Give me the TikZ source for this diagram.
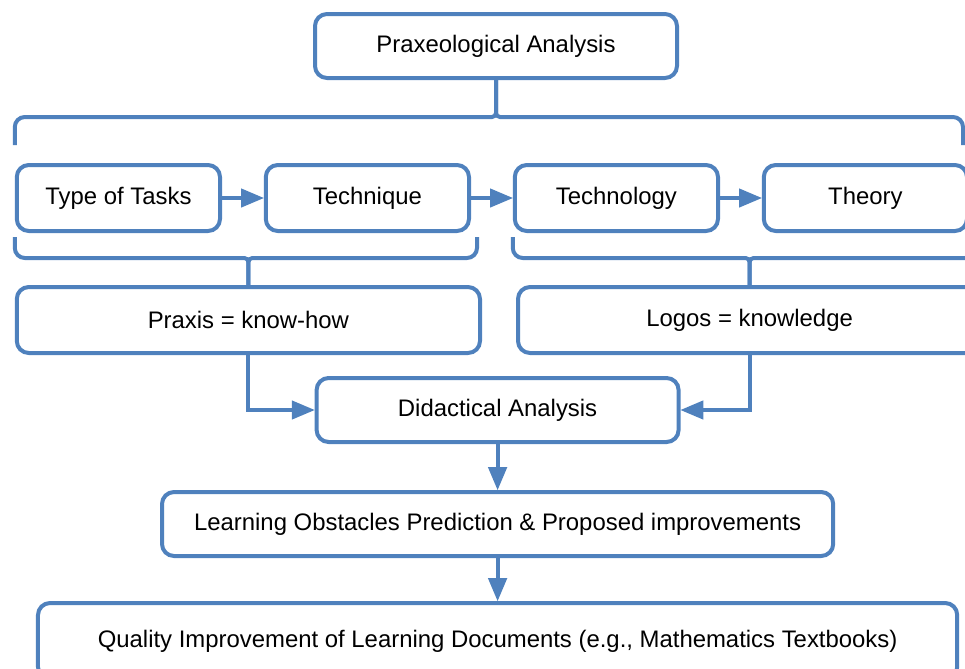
\documentclass[tikz,border=0pt]{standalone}
\usepackage{fontspec}
\setmainfont{Liberation Sans}
\usetikzlibrary{shapes.geometric, arrows, calc}
\definecolor{boxblue}{RGB}{79,129,189}

\begin{document}
\begin{tikzpicture}[node distance=2.85cm, font=\fontsize{17}{20}\selectfont]
		\tikzstyle{box} = [rectangle, rounded corners=0.3cm, minimum height=1.6cm, text centered, draw=boxblue, line width=0.1cm, fill=white]
		
		\tikzstyle{analysis} = [box, minimum width=9.05cm]
		
		\tikzstyle{component} = [box, minimum width=5.08cm, minimum height=1.65cm]
		
		\tikzstyle{logic} = [box, minimum width=11.58cm, minimum height=1.65cm]
		
		\tikzstyle{arrow} = [->,>= triangle 45, color=boxblue, line width=0.1cm]
		
		\tikzstyle{brace} = [draw=boxblue, line width=0.1cm, rounded corners=0.25cm]
		
		\path [use as bounding box] (0,0) rectangle (24.125,-16.7);
		\clip (0,0) rectangle (24.125,-16.7);
		
		% Top of the figure
		\node (start) [analysis] at (12.4,-1.15) {Praxeological Analysis};
		
		% Level 1 nodes
		\node (tasks) [component, below of = start, xshift=-9.44cm, yshift=-0.95cm] {Type of Tasks};
		\node (technique) [component, right of = tasks, xshift=3.375cm] {Technique};
		\node (technology) [component, right of = technique, xshift=3.375cm] {Technology};
		\node (theory) [component, right of = technology, xshift=3.375cm] {Theory};
		
		% Level 2 nodes
		\node (praxis) [logic, below of = tasks, xshift=3.25cm, yshift=-0.2cm] {Praxis = know-how};
		\node (logos) [logic, right of = praxis, xshift=9.68cm] {Logos = knowledge};
		
		% Lower nodes
		\node (didactic) [analysis, below of = praxis, xshift=6.23cm, yshift=0.6cm] {Didactical Analysis};
		\node (obstacles) [box, minimum width=16.78cm, below of = didactic] {Learning Obstacles Prediction \& Proposed improvements};
		\node (quality) [box, minimum width=22.98cm, minimum height=1.9cm, below of = obstacles, yshift=-0.075cm] {Quality Improvement of Learning Documents (e.g., Mathematics Textbooks)};
		
		% Braces
		\coordinate (starttip) at ($(start.south)+(0,-0.925)$);
		\coordinate (a) at ($(tasks.north west)+(0,0.45)$);
		\coordinate (b) at ($(theory.north east)+(-0.15,0.45)$);
		\draw [brace] (a) -- (a |- starttip) [rounded corners=0.1cm] -- (starttip) -- (start.south);
		\draw [brace] (b) -- (b |- starttip) [rounded corners=0.1cm] -- (starttip) -- (start.south);
		
		\coordinate (praxistip) at ($(praxis.north)+(0,0.675)$);
		\coordinate (c) at ($(tasks.south west)+(0,-0.1)$);
		\coordinate (d) at ($(technique.south east)+(0.15,-0.1)$);
		\draw [brace] (c) -- (c |- praxistip) [rounded corners=0.1cm] -- (praxistip) -- (praxis.north);
		\draw [brace] (d) -- (d |- praxistip) [rounded corners=0.1cm] -- (praxistip) -- (praxis.north);
		
		\coordinate (logostip) at ($(logos.north)+(0,0.675)$);
		\coordinate (e) at ($(technology.south west)+(0,-0.1)$);
		\coordinate (f) at ($(theory.south east)+(0.15,-0.1)$);
		\draw [brace] (e) -- (e |- logostip) [rounded corners=0.1cm] -- (logostip) -- (logos.north);
		\draw [brace] (f) -- (f |- logostip) [rounded corners=0.1cm] -- (logostip) -- (logos.north);
		
		% Arrows
		\draw [arrow] (tasks) -- (technique);
		\draw [arrow] (technique) -- (technology);
		\draw [arrow] (technology) -- (theory);
		\draw [arrow] (praxis.south) |- (didactic.west);
		\draw [arrow] (logos.south) |- (didactic.east);
		\draw [arrow] (didactic) -- (obstacles);
		\draw [arrow] (obstacles) -- (quality);
		
\end{tikzpicture}
\end{document}
